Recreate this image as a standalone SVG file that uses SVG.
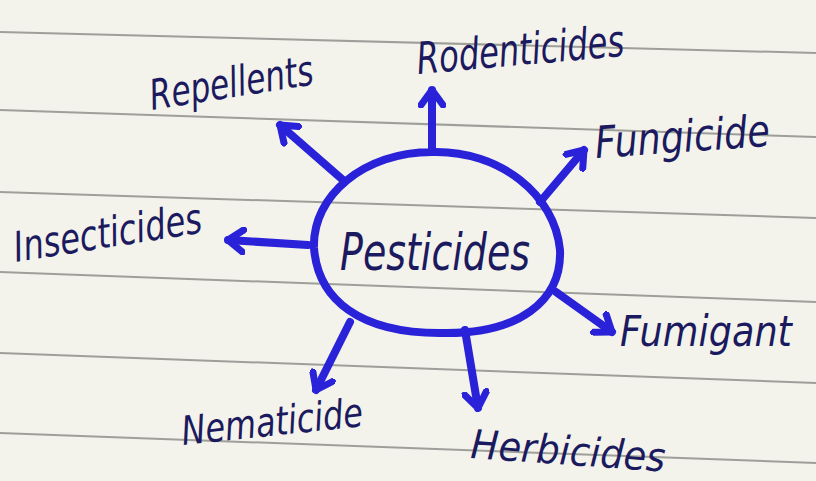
<svg xmlns="http://www.w3.org/2000/svg" width="816" height="481" viewBox="0 0 816 481">
<style>
.rule{stroke:#8a8a86;stroke-width:2;fill:none;opacity:.8}
.arr{stroke:#2a22d8;stroke-width:8;fill:none;stroke-linecap:round;stroke-linejoin:round}
.lbl{font-family:"DejaVu Sans","Liberation Sans",sans-serif;font-style:italic;font-weight:300;fill:#1c1a5e}
</style>
<defs>
<marker id="ah" viewBox="-18 -14 20 28" refX="0" refY="0" markerWidth="20" markerHeight="28" markerUnits="userSpaceOnUse" orient="auto">
<path d="M-15,-11 L0,0 L-15,11" fill="none" stroke="#2a22d8" stroke-width="7" stroke-linejoin="round" stroke-linecap="round"/>
</marker>
</defs>
<rect width="816" height="481" fill="#f3f3ec"/>
<g id="rules">
<path class="rule" d="M0,32 L816,53"/>
<path class="rule" d="M0,110 L816,137"/>
<path class="rule" d="M0,192 L816,218"/>
<path class="rule" d="M0,272 L816,302"/>
<path class="rule" d="M0,353 L816,383"/>
<path class="rule" d="M0,433 L816,463"/>
</g>
<g id="connectors">
<path class="arr" d="M432,150 L432,90" marker-end="url(#ah)"/>
<path class="arr" d="M343,180 L280,125" marker-end="url(#ah)"/>
<path class="arr" d="M540,202 L584,150" marker-end="url(#ah)"/>
<path class="arr" d="M308,245 L228,240" marker-end="url(#ah)"/>
<path class="arr" d="M556,292 L612,332" marker-end="url(#ah)"/>
<path class="arr" d="M465,330 L478,408" marker-end="url(#ah)"/>
<path class="arr" d="M350,322 L316,390" marker-end="url(#ah)"/>
</g>
<g id="pesticides">
<path d="M432,152 C500,150 555,195 560,250 C562,300 520,335 440,333 C360,333 318,300 314,248 C312,195 365,152 432,152 Z" fill="none" stroke="#2a22d8" stroke-width="8"/>
<text class="lbl" x="340" y="270" style="font-size:52px" textLength="190" lengthAdjust="spacingAndGlyphs">Pesticides</text>
</g>
<g id="rodenticides"><text class="lbl" transform="translate(418,74) rotate(-5)" style="font-size:44px" textLength="208" lengthAdjust="spacingAndGlyphs">Rodenticides</text></g>
<g id="repellents"><text class="lbl" transform="translate(152,110) rotate(-9)" style="font-size:42px" textLength="165" lengthAdjust="spacingAndGlyphs">Repellents</text></g>
<g id="fungicide"><text class="lbl" transform="translate(596,158) rotate(-4)" style="font-size:44px" textLength="175" lengthAdjust="spacingAndGlyphs">Fungicide</text></g>
<g id="insecticides"><text class="lbl" transform="translate(16,262) rotate(-9)" style="font-size:42px" textLength="190" lengthAdjust="spacingAndGlyphs">Insecticides</text></g>
<g id="fumigant"><text class="lbl" transform="translate(620,346) scale(1,1.2)" style="font-size:36px" textLength="172" lengthAdjust="spacingAndGlyphs">Fumigant</text></g>
<g id="nematicide"><text class="lbl" transform="translate(183,445) rotate(-6)" style="font-size:40px" textLength="182" lengthAdjust="spacingAndGlyphs">Nematicide</text></g>
<g id="herbicides"><text class="lbl" transform="translate(470,458) rotate(4)" style="font-size:40px" textLength="195" lengthAdjust="spacingAndGlyphs">Herbicides</text></g>
</svg>
